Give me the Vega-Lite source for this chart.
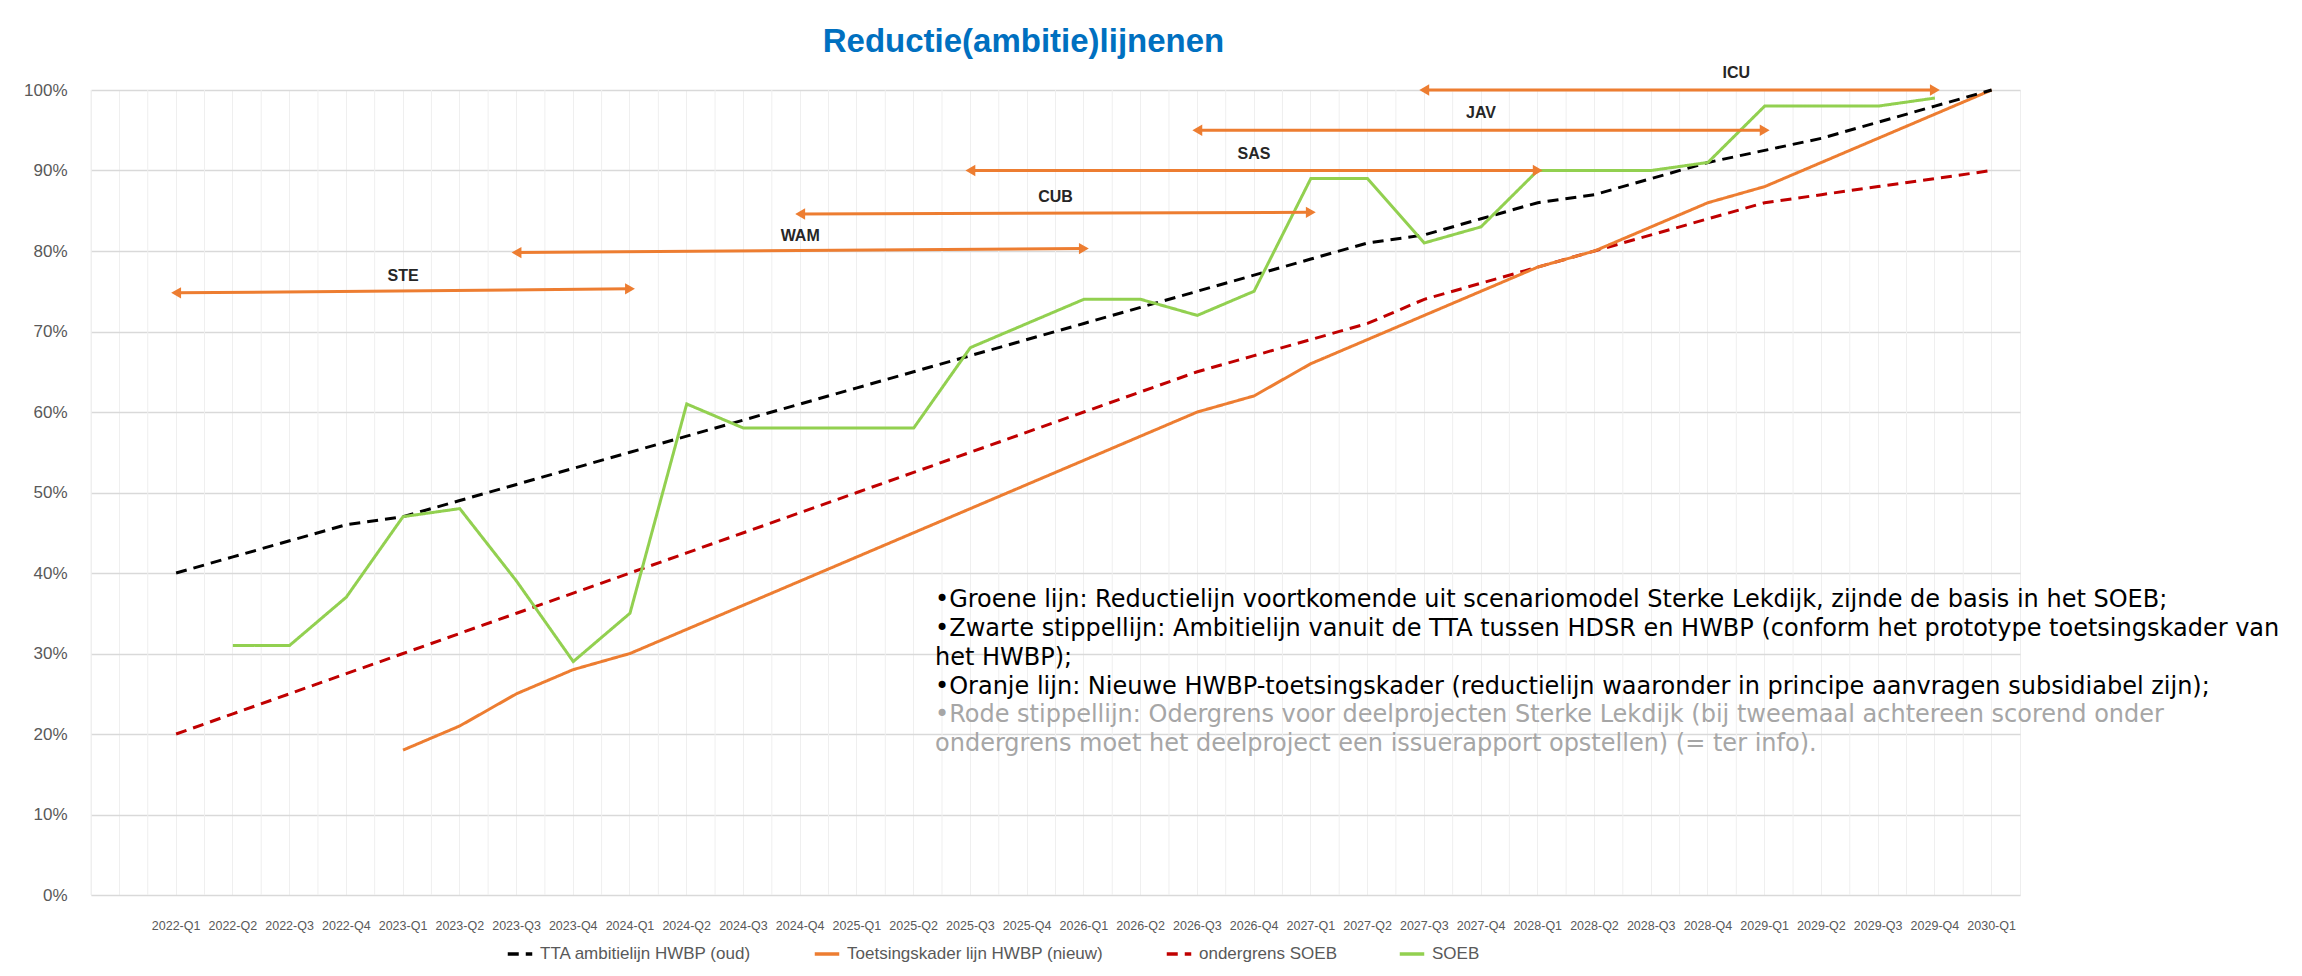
{
  "$schema": "https://vega.github.io/schema/vega-lite/v6.json",
  "width": 1929,
  "height": 805,
  "autosize": {"type": "none"},
  "padding": {"left": 91, "top": 90, "right": 282, "bottom": 81},
  "background": "white",
  "title": {
    "text": "Reductie(ambitie)lijnenen",
    "anchor": "middle",
    "dx": -32,
    "offset": 6,
    "font": "Liberation Sans",
    "fontSize": 33,
    "fontWeight": "bold",
    "color": "#0070C0"
  },
  "config": {
    "view": {"stroke": "#eeeeee", "strokeWidth": 1},
    "legend": {"padding": 0}
  },
  "datasets": {
    "quarters": [
      {"q": " "}, {"q": "2022-Q1"}, {"q": "2022-Q2"}, {"q": "2022-Q3"}, {"q": "2022-Q4"},
      {"q": "2023-Q1"}, {"q": "2023-Q2"}, {"q": "2023-Q3"}, {"q": "2023-Q4"},
      {"q": "2024-Q1"}, {"q": "2024-Q2"}, {"q": "2024-Q3"}, {"q": "2024-Q4"},
      {"q": "2025-Q1"}, {"q": "2025-Q2"}, {"q": "2025-Q3"}, {"q": "2025-Q4"},
      {"q": "2026-Q1"}, {"q": "2026-Q2"}, {"q": "2026-Q3"}, {"q": "2026-Q4"},
      {"q": "2027-Q1"}, {"q": "2027-Q2"}, {"q": "2027-Q3"}, {"q": "2027-Q4"},
      {"q": "2028-Q1"}, {"q": "2028-Q2"}, {"q": "2028-Q3"}, {"q": "2028-Q4"},
      {"q": "2029-Q1"}, {"q": "2029-Q2"}, {"q": "2029-Q3"}, {"q": "2029-Q4"},
      {"q": "2030-Q1"}
    ],
    "series": [
      {"q": "2022-Q1", "s": "ondergrens SOEB", "v": 20},
      {"q": "2022-Q2", "s": "ondergrens SOEB", "v": 22.5},
      {"q": "2022-Q3", "s": "ondergrens SOEB", "v": 25},
      {"q": "2022-Q4", "s": "ondergrens SOEB", "v": 27.5},
      {"q": "2023-Q1", "s": "ondergrens SOEB", "v": 30},
      {"q": "2023-Q2", "s": "ondergrens SOEB", "v": 32.5},
      {"q": "2023-Q3", "s": "ondergrens SOEB", "v": 35},
      {"q": "2023-Q4", "s": "ondergrens SOEB", "v": 37.5},
      {"q": "2024-Q1", "s": "ondergrens SOEB", "v": 40},
      {"q": "2024-Q2", "s": "ondergrens SOEB", "v": 42.5},
      {"q": "2024-Q3", "s": "ondergrens SOEB", "v": 45},
      {"q": "2024-Q4", "s": "ondergrens SOEB", "v": 47.5},
      {"q": "2025-Q1", "s": "ondergrens SOEB", "v": 50},
      {"q": "2025-Q2", "s": "ondergrens SOEB", "v": 52.5},
      {"q": "2025-Q3", "s": "ondergrens SOEB", "v": 55},
      {"q": "2025-Q4", "s": "ondergrens SOEB", "v": 57.5},
      {"q": "2026-Q1", "s": "ondergrens SOEB", "v": 60},
      {"q": "2026-Q2", "s": "ondergrens SOEB", "v": 62.5},
      {"q": "2026-Q3", "s": "ondergrens SOEB", "v": 65},
      {"q": "2026-Q4", "s": "ondergrens SOEB", "v": 67},
      {"q": "2027-Q1", "s": "ondergrens SOEB", "v": 69},
      {"q": "2027-Q2", "s": "ondergrens SOEB", "v": 71},
      {"q": "2027-Q3", "s": "ondergrens SOEB", "v": 74},
      {"q": "2027-Q4", "s": "ondergrens SOEB", "v": 76},
      {"q": "2028-Q1", "s": "ondergrens SOEB", "v": 78},
      {"q": "2028-Q2", "s": "ondergrens SOEB", "v": 80},
      {"q": "2028-Q3", "s": "ondergrens SOEB", "v": 82},
      {"q": "2028-Q4", "s": "ondergrens SOEB", "v": 84},
      {"q": "2029-Q1", "s": "ondergrens SOEB", "v": 86},
      {"q": "2029-Q2", "s": "ondergrens SOEB", "v": 87},
      {"q": "2029-Q3", "s": "ondergrens SOEB", "v": 88},
      {"q": "2029-Q4", "s": "ondergrens SOEB", "v": 89},
      {"q": "2030-Q1", "s": "ondergrens SOEB", "v": 90},
      {"q": "2023-Q1", "s": "Toetsingskader lijn HWBP (nieuw)", "v": 18},
      {"q": "2023-Q2", "s": "Toetsingskader lijn HWBP (nieuw)", "v": 21},
      {"q": "2023-Q3", "s": "Toetsingskader lijn HWBP (nieuw)", "v": 25},
      {"q": "2023-Q4", "s": "Toetsingskader lijn HWBP (nieuw)", "v": 28},
      {"q": "2024-Q1", "s": "Toetsingskader lijn HWBP (nieuw)", "v": 30},
      {"q": "2024-Q2", "s": "Toetsingskader lijn HWBP (nieuw)", "v": 33},
      {"q": "2024-Q3", "s": "Toetsingskader lijn HWBP (nieuw)", "v": 36},
      {"q": "2024-Q4", "s": "Toetsingskader lijn HWBP (nieuw)", "v": 39},
      {"q": "2025-Q1", "s": "Toetsingskader lijn HWBP (nieuw)", "v": 42},
      {"q": "2025-Q2", "s": "Toetsingskader lijn HWBP (nieuw)", "v": 45},
      {"q": "2025-Q3", "s": "Toetsingskader lijn HWBP (nieuw)", "v": 48},
      {"q": "2025-Q4", "s": "Toetsingskader lijn HWBP (nieuw)", "v": 51},
      {"q": "2026-Q1", "s": "Toetsingskader lijn HWBP (nieuw)", "v": 54},
      {"q": "2026-Q2", "s": "Toetsingskader lijn HWBP (nieuw)", "v": 57},
      {"q": "2026-Q3", "s": "Toetsingskader lijn HWBP (nieuw)", "v": 60},
      {"q": "2026-Q4", "s": "Toetsingskader lijn HWBP (nieuw)", "v": 62},
      {"q": "2027-Q1", "s": "Toetsingskader lijn HWBP (nieuw)", "v": 66},
      {"q": "2027-Q2", "s": "Toetsingskader lijn HWBP (nieuw)", "v": 69},
      {"q": "2027-Q3", "s": "Toetsingskader lijn HWBP (nieuw)", "v": 72},
      {"q": "2027-Q4", "s": "Toetsingskader lijn HWBP (nieuw)", "v": 75},
      {"q": "2028-Q1", "s": "Toetsingskader lijn HWBP (nieuw)", "v": 78},
      {"q": "2028-Q2", "s": "Toetsingskader lijn HWBP (nieuw)", "v": 80},
      {"q": "2028-Q3", "s": "Toetsingskader lijn HWBP (nieuw)", "v": 83},
      {"q": "2028-Q4", "s": "Toetsingskader lijn HWBP (nieuw)", "v": 86},
      {"q": "2029-Q1", "s": "Toetsingskader lijn HWBP (nieuw)", "v": 88},
      {"q": "2029-Q2", "s": "Toetsingskader lijn HWBP (nieuw)", "v": 91},
      {"q": "2029-Q3", "s": "Toetsingskader lijn HWBP (nieuw)", "v": 94},
      {"q": "2029-Q4", "s": "Toetsingskader lijn HWBP (nieuw)", "v": 97},
      {"q": "2030-Q1", "s": "Toetsingskader lijn HWBP (nieuw)", "v": 100},
      {"q": "2022-Q1", "s": "TTA ambitielijn HWBP (oud)", "v": 40},
      {"q": "2022-Q2", "s": "TTA ambitielijn HWBP (oud)", "v": 42},
      {"q": "2022-Q3", "s": "TTA ambitielijn HWBP (oud)", "v": 44},
      {"q": "2022-Q4", "s": "TTA ambitielijn HWBP (oud)", "v": 46},
      {"q": "2023-Q1", "s": "TTA ambitielijn HWBP (oud)", "v": 47},
      {"q": "2023-Q2", "s": "TTA ambitielijn HWBP (oud)", "v": 49},
      {"q": "2023-Q3", "s": "TTA ambitielijn HWBP (oud)", "v": 51},
      {"q": "2023-Q4", "s": "TTA ambitielijn HWBP (oud)", "v": 53},
      {"q": "2024-Q1", "s": "TTA ambitielijn HWBP (oud)", "v": 55},
      {"q": "2024-Q2", "s": "TTA ambitielijn HWBP (oud)", "v": 57},
      {"q": "2024-Q3", "s": "TTA ambitielijn HWBP (oud)", "v": 59},
      {"q": "2024-Q4", "s": "TTA ambitielijn HWBP (oud)", "v": 61},
      {"q": "2025-Q1", "s": "TTA ambitielijn HWBP (oud)", "v": 63},
      {"q": "2025-Q2", "s": "TTA ambitielijn HWBP (oud)", "v": 65},
      {"q": "2025-Q3", "s": "TTA ambitielijn HWBP (oud)", "v": 67},
      {"q": "2025-Q4", "s": "TTA ambitielijn HWBP (oud)", "v": 69},
      {"q": "2026-Q1", "s": "TTA ambitielijn HWBP (oud)", "v": 71},
      {"q": "2026-Q2", "s": "TTA ambitielijn HWBP (oud)", "v": 73},
      {"q": "2026-Q3", "s": "TTA ambitielijn HWBP (oud)", "v": 75},
      {"q": "2026-Q4", "s": "TTA ambitielijn HWBP (oud)", "v": 77},
      {"q": "2027-Q1", "s": "TTA ambitielijn HWBP (oud)", "v": 79},
      {"q": "2027-Q2", "s": "TTA ambitielijn HWBP (oud)", "v": 81},
      {"q": "2027-Q3", "s": "TTA ambitielijn HWBP (oud)", "v": 82},
      {"q": "2027-Q4", "s": "TTA ambitielijn HWBP (oud)", "v": 84},
      {"q": "2028-Q1", "s": "TTA ambitielijn HWBP (oud)", "v": 86},
      {"q": "2028-Q2", "s": "TTA ambitielijn HWBP (oud)", "v": 87},
      {"q": "2028-Q3", "s": "TTA ambitielijn HWBP (oud)", "v": 89},
      {"q": "2028-Q4", "s": "TTA ambitielijn HWBP (oud)", "v": 91},
      {"q": "2029-Q1", "s": "TTA ambitielijn HWBP (oud)", "v": 92.5},
      {"q": "2029-Q2", "s": "TTA ambitielijn HWBP (oud)", "v": 94},
      {"q": "2029-Q3", "s": "TTA ambitielijn HWBP (oud)", "v": 96},
      {"q": "2029-Q4", "s": "TTA ambitielijn HWBP (oud)", "v": 98},
      {"q": "2030-Q1", "s": "TTA ambitielijn HWBP (oud)", "v": 100},
      {"q": "2022-Q2", "s": "SOEB", "v": 31},
      {"q": "2022-Q3", "s": "SOEB", "v": 31},
      {"q": "2022-Q4", "s": "SOEB", "v": 37},
      {"q": "2023-Q1", "s": "SOEB", "v": 47},
      {"q": "2023-Q2", "s": "SOEB", "v": 48},
      {"q": "2023-Q3", "s": "SOEB", "v": 39},
      {"q": "2023-Q4", "s": "SOEB", "v": 29},
      {"q": "2024-Q1", "s": "SOEB", "v": 35},
      {"q": "2024-Q2", "s": "SOEB", "v": 61},
      {"q": "2024-Q3", "s": "SOEB", "v": 58},
      {"q": "2024-Q4", "s": "SOEB", "v": 58},
      {"q": "2025-Q1", "s": "SOEB", "v": 58},
      {"q": "2025-Q2", "s": "SOEB", "v": 58},
      {"q": "2025-Q3", "s": "SOEB", "v": 68},
      {"q": "2025-Q4", "s": "SOEB", "v": 71},
      {"q": "2026-Q1", "s": "SOEB", "v": 74},
      {"q": "2026-Q2", "s": "SOEB", "v": 74},
      {"q": "2026-Q3", "s": "SOEB", "v": 72},
      {"q": "2026-Q4", "s": "SOEB", "v": 75},
      {"q": "2027-Q1", "s": "SOEB", "v": 89},
      {"q": "2027-Q2", "s": "SOEB", "v": 89},
      {"q": "2027-Q3", "s": "SOEB", "v": 81},
      {"q": "2027-Q4", "s": "SOEB", "v": 83},
      {"q": "2028-Q1", "s": "SOEB", "v": 90},
      {"q": "2028-Q2", "s": "SOEB", "v": 90},
      {"q": "2028-Q3", "s": "SOEB", "v": 90},
      {"q": "2028-Q4", "s": "SOEB", "v": 91},
      {"q": "2029-Q1", "s": "SOEB", "v": 98},
      {"q": "2029-Q2", "s": "SOEB", "v": 98},
      {"q": "2029-Q3", "s": "SOEB", "v": 98},
      {"q": "2029-Q4", "s": "SOEB", "v": 99}
    ],
    "arrows": [
      {"name": "STE", "start": "2022-Q1", "end": "2024-Q1", "y1": 74.8, "y2": 75.3, "mid": "2023-Q1", "half": false},
      {"name": "WAM", "start": "2023-Q3", "end": "2026-Q1", "y1": 79.8, "y2": 80.3, "mid": "2024-Q4", "half": false},
      {"name": "CUB", "start": "2024-Q4", "end": "2027-Q1", "y1": 84.6, "y2": 84.8, "mid": "2026-Q1", "half": true},
      {"name": "SAS", "start": "2025-Q3", "end": "2028-Q1", "y1": 90, "y2": 90, "mid": "2026-Q4", "half": false},
      {"name": "JAV", "start": "2026-Q3", "end": "2029-Q1", "y1": 95, "y2": 95, "mid": "2027-Q4", "half": false},
      {"name": "ICU", "start": "2027-Q3", "end": "2029-Q4", "y1": 100, "y2": 100, "mid": "2029-Q1", "half": true}
    ],
    "notes": [
      {"line": "•Groene lijn: Reductielijn voortkomende uit scenariomodel Sterke Lekdijk, zijnde de basis in het SOEB;", "q": "2025-Q3", "y": 36.7, "tone": "dark"},
      {"line": "•Zwarte stippellijn: Ambitielijn vanuit de TTA tussen HDSR en HWBP (conform het prototype toetsingskader van", "q": "2025-Q3", "y": 33.1, "tone": "dark"},
      {"line": "het HWBP);", "q": "2025-Q3", "y": 29.5, "tone": "dark"},
      {"line": "•Oranje lijn: Nieuwe HWBP-toetsingskader (reductielijn waaronder in principe aanvragen subsidiabel zijn);", "q": "2025-Q3", "y": 25.9, "tone": "dark"},
      {"line": "•Rode stippellijn: Odergrens voor deelprojecten Sterke Lekdijk (bij tweemaal achtereen scorend onder", "q": "2025-Q3", "y": 22.3, "tone": "light"},
      {"line": "ondergrens moet het deelproject een issuerapport opstellen) (= ter info).", "q": "2025-Q3", "y": 18.7, "tone": "light"}
    ]
  },
  "layer": [
    {
      "data": {"name": "quarters"},
      "mark": {"type": "rule", "color": "#efefef", "strokeWidth": 1},
      "encoding": {
        "x": {
          "field": "q", "type": "ordinal", "bandPosition": 0,
          "scale": {
            "type": "band", "paddingInner": 0, "paddingOuter": 0,
            "domain": [" ", "2022-Q1", "2022-Q2", "2022-Q3", "2022-Q4", "2023-Q1", "2023-Q2", "2023-Q3", "2023-Q4", "2024-Q1", "2024-Q2", "2024-Q3", "2024-Q4", "2025-Q1", "2025-Q2", "2025-Q3", "2025-Q4", "2026-Q1", "2026-Q2", "2026-Q3", "2026-Q4", "2027-Q1", "2027-Q2", "2027-Q3", "2027-Q4", "2028-Q1", "2028-Q2", "2028-Q3", "2028-Q4", "2029-Q1", "2029-Q2", "2029-Q3", "2029-Q4", "2030-Q1"]
          },
          "axis": {
            "title": null, "labelAngle": 0, "labelFont": "Liberation Sans", "labelFontSize": 12.5,
            "labelColor": "#595959", "ticks": false, "domain": false, "grid": true,
            "gridColor": "#efefef", "gridWidth": 1, "labelPadding": 24
          }
        }
      }
    },
    {
      "data": {"name": "series"},
      "mark": {"type": "line", "strokeWidth": 3},
      "encoding": {
        "x": {"field": "q", "type": "ordinal"},
        "y": {
          "field": "v", "type": "quantitative",
          "scale": {"domain": [0, 100], "nice": false},
          "axis": {
            "title": null, "values": [0, 10, 20, 30, 40, 50, 60, 70, 80, 90, 100],
            "labelExpr": "datum.value + '%'", "labelFont": "Liberation Sans", "labelFontSize": 17,
            "labelColor": "#595959", "ticks": false, "domain": false, "grid": true,
            "gridColor": "#d9d9d9", "gridWidth": 1.5, "labelPadding": 24
          }
        },
        "color": {
          "field": "s", "type": "nominal",
          "scale": {
            "domain": ["TTA ambitielijn HWBP (oud)", "Toetsingskader lijn HWBP (nieuw)", "ondergrens SOEB", "SOEB"],
            "range": ["#000000", "#ED7D31", "#C00000", "#92D050"]
          },
          "legend": {
            "title": null, "orient": "none", "direction": "horizontal", "legendX": 415, "legendY": 850,
            "symbolType": "stroke", "symbolStrokeWidth": 3.5, "symbolSize": 600,
            "labelFont": "Liberation Sans", "labelFontSize": 17, "labelColor": "#595959",
            "labelLimit": 0, "columnPadding": 55, "labelOffset": 6
          }
        },
        "strokeDash": {
          "field": "s", "type": "nominal",
          "scale": {
            "domain": ["TTA ambitielijn HWBP (oud)", "Toetsingskader lijn HWBP (nieuw)", "ondergrens SOEB", "SOEB"],
            "range": [[11, 7], [1, 0], [11, 7], [1, 0]]
          },
          "legend": null
        }
      }
    },
    {
      "data": {"name": "arrows"},
      "mark": {"type": "rule", "color": "#ED7D31", "strokeWidth": 3},
      "encoding": {
        "x": {"field": "start", "type": "ordinal"},
        "x2": {"field": "end"},
        "y": {"field": "y1", "type": "quantitative"},
        "y2": {"field": "y2"}
      }
    },
    {
      "data": {"name": "arrows"},
      "mark": {"type": "point", "shape": "triangle-left", "filled": true, "color": "#ED7D31", "opacity": 1, "size": 130},
      "encoding": {
        "x": {"field": "start", "type": "ordinal"},
        "y": {"field": "y1", "type": "quantitative"}
      }
    },
    {
      "data": {"name": "arrows"},
      "mark": {"type": "point", "shape": "triangle-right", "filled": true, "color": "#ED7D31", "opacity": 1, "size": 130},
      "encoding": {
        "x": {"field": "end", "type": "ordinal"},
        "y": {"field": "y2", "type": "quantitative"}
      }
    },
    {
      "data": {"name": "arrows"},
      "transform": [{"filter": "!datum.half"}],
      "mark": {"type": "text", "font": "Liberation Sans", "fontSize": 16, "fontWeight": "bold", "color": "#262626", "dy": -17, "baseline": "middle"},
      "encoding": {
        "x": {"field": "mid", "type": "ordinal"},
        "y": {"field": "y1", "type": "quantitative"},
        "text": {"field": "name"}
      }
    },
    {
      "data": {"name": "arrows"},
      "transform": [{"filter": "datum.half"}],
      "mark": {"type": "text", "font": "Liberation Sans", "fontSize": 16, "fontWeight": "bold", "color": "#262626", "dy": -17, "baseline": "middle"},
      "encoding": {
        "x": {"field": "mid", "type": "ordinal", "bandPosition": 0},
        "y": {"field": "y1", "type": "quantitative"},
        "text": {"field": "name"}
      }
    },
    {
      "data": {"name": "notes"},
      "transform": [{"filter": "datum.tone == 'dark'"}],
      "mark": {"type": "text", "font": "DejaVu Sans", "fontSize": 24, "color": "#000000", "align": "left", "baseline": "middle", "dx": -7},
      "encoding": {
        "x": {"field": "q", "type": "ordinal", "bandPosition": 0},
        "y": {"field": "y", "type": "quantitative"},
        "text": {"field": "line"}
      }
    },
    {
      "data": {"name": "notes"},
      "transform": [{"filter": "datum.tone == 'light'"}],
      "mark": {"type": "text", "font": "DejaVu Sans", "fontSize": 24, "color": "#a6a6a6", "align": "left", "baseline": "middle", "dx": -7},
      "encoding": {
        "x": {"field": "q", "type": "ordinal", "bandPosition": 0},
        "y": {"field": "y", "type": "quantitative"},
        "text": {"field": "line"}
      }
    }
  ]
}
